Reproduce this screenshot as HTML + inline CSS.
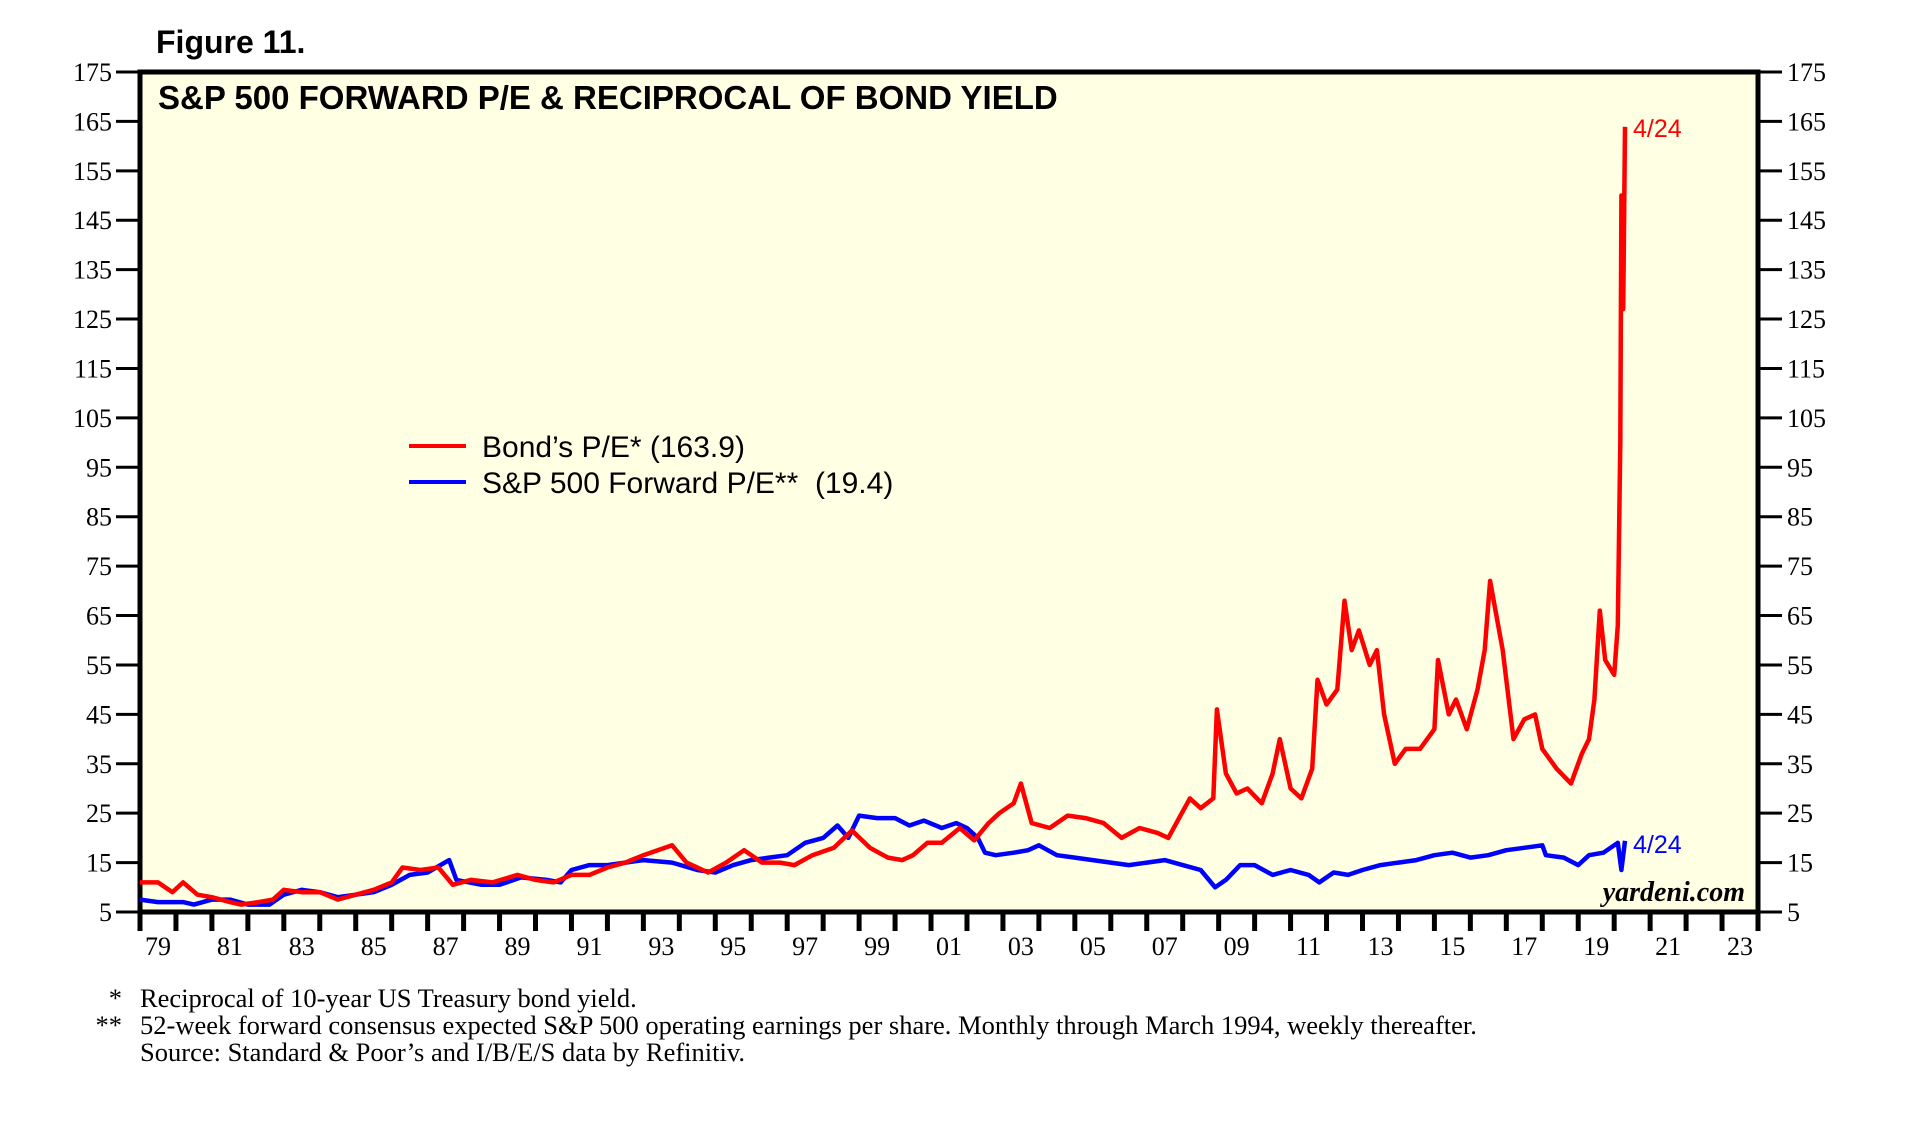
<!DOCTYPE html>
<html><head><meta charset="utf-8"><style>
body{margin:0;background:#fff;width:1919px;height:1121px;overflow:hidden;}
svg{display:block}
</style></head><body>
<svg id="c" width="1919" height="1121" xmlns="http://www.w3.org/2000/svg">
<text x="156" y="53" font-family="Liberation Sans, sans-serif" font-weight="bold" font-size="32">Figure 11.</text>
<rect x="140" y="72" width="1618" height="840" fill="#ffffe4" stroke="#000" stroke-width="5"/>
<text x="158" y="109" font-family="Liberation Sans, sans-serif" font-weight="bold" font-size="33">S&amp;P 500 FORWARD P/E &amp; RECIPROCAL OF BOND YIELD</text>
<g id="axes"></g>
<g id="series"></g>
<g font-family="Liberation Sans, sans-serif" font-size="30">
<line x1="409" y1="446" x2="466" y2="446" stroke="#f00" stroke-width="4"/>
<text x="482" y="457">Bond’s P/E* (163.9)</text>
<line x1="409" y1="482" x2="466" y2="482" stroke="#00f" stroke-width="4"/>
<text x="482" y="493">S&amp;P 500 Forward P/E**&#160;&#160;(19.4)</text>
</g>
<text x="1633" y="137" fill="#f00" font-family="Liberation Sans, sans-serif" font-size="25">4/24</text>
<text x="1633" y="853" fill="#00f" font-family="Liberation Sans, sans-serif" font-size="25">4/24</text>
<text x="1745" y="901" text-anchor="end" font-family="Liberation Serif, serif" font-style="italic" font-weight="bold" font-size="28">yardeni.com</text>
<g font-family="Liberation Serif, serif" font-size="26.5">
<text x="122" y="1007" text-anchor="end">*</text>
<text x="140" y="1007">Reciprocal of 10-year US Treasury bond yield.</text>
<text x="122" y="1034" text-anchor="end">**</text>
<text x="140" y="1034">52-week forward consensus expected S&amp;P 500 operating earnings per share. Monthly through March 1994, weekly thereafter.</text>
<text x="140" y="1061">Source: Standard &amp; Poor’s and I/B/E/S data by Refinitiv.</text>
</g>
</svg>
<script>
const yTicks=[5,15,25,35,45,55,65,75,85,95,105,115,125,135,145,155,165,175];
const xYearLabels=["79","81","83","85","87","89","91","93","95","97","99","01","03","05","07","09","11","13","15","17","19","21","23"];
const bondYears=[1979.0,1979.5,1979.9,1980.2,1980.6,1981.0,1981.5,1981.8,1982.3,1982.7,1983.0,1983.5,1984.0,1984.5,1985.0,1985.5,1986.0,1986.3,1986.8,1987.3,1987.7,1988.2,1988.8,1989.5,1990.0,1990.5,1991.0,1991.5,1992.0,1992.5,1993.0,1993.8,1994.2,1994.8,1995.3,1995.8,1996.3,1996.8,1997.2,1997.7,1998.3,1998.8,1999.3,1999.8,2000.2,2000.5,2000.9,2001.3,2001.8,2002.2,2002.6,2002.9,2003.3,2003.5,2003.8,2004.3,2004.8,2005.3,2005.8,2006.3,2006.8,2007.3,2007.6,2007.9,2008.2,2008.5,2008.85,2008.95,2009.2,2009.5,2009.8,2010.2,2010.5,2010.7,2011.0,2011.3,2011.6,2011.75,2012.0,2012.3,2012.5,2012.7,2012.9,2013.2,2013.4,2013.6,2013.9,2014.2,2014.6,2015.0,2015.1,2015.4,2015.6,2015.9,2016.2,2016.4,2016.55,2016.8,2016.9,2017.2,2017.5,2017.8,2018.0,2018.4,2018.8,2019.1,2019.3,2019.45,2019.6,2019.75,2020.0,2020.1,2020.17,2020.2,2020.25,2020.3];
const bondValues=[11,11,9,11,8.5,8,7,6.5,7,7.5,9.5,9,9,7.5,8.5,9.5,11,14,13.5,14,10.5,11.5,11,12.5,11.5,11,12.5,12.5,14,15,16.5,18.5,15,13,15,17.5,15,15,14.5,16.5,18,21.5,18,16,15.5,16.5,19,19,22,19.5,23,25,27,31,23,22,24.5,24,23,20,22,21,20,24,28,26,28,46,33,29,30,27,33,40,30,28,34,52,47,50,68,58,62,55,58,45,35,38,38,42,56,45,48,42,50,58,72,62,58,40,44,45,38,34,31,37,40,48,66,56,53,63,100,150,127,163.9];
const spYears=[1979,1979.5,1980.2,1980.5,1981,1981.5,1982,1982.6,1983,1983.5,1984,1984.5,1985,1985.5,1986,1986.5,1987.0,1987.6,1987.8,1988.5,1989,1989.6,1990.3,1990.7,1991.0,1991.5,1992.0,1992.5,1993.0,1993.8,1994.5,1995,1995.5,1996,1996.5,1997,1997.5,1998,1998.4,1998.7,1999.0,1999.5,2000.0,2000.4,2000.8,2001.3,2001.7,2002.0,2002.3,2002.5,2002.8,2003.3,2003.7,2004.0,2004.5,2005,2005.5,2006,2006.5,2007,2007.5,2008,2008.5,2008.9,2009.2,2009.6,2010.0,2010.5,2011,2011.5,2011.8,2012.2,2012.6,2013,2013.5,2014,2014.5,2015,2015.5,2016,2016.5,2017,2017.5,2018.0,2018.1,2018.6,2019.0,2019.3,2019.7,2020.1,2020.2,2020.3];
const spValues=[7.5,7,7,6.5,7.5,7.5,6.5,6.5,8.5,9.5,9,8,8.5,9,10.5,12.5,13,15.5,11.5,10.5,10.5,12,11.5,11,13.5,14.5,14.5,15,15.5,15,13.5,13,14.5,15.5,16,16.5,19,20,22.5,20,24.5,24,24,22.5,23.5,22,23,22,20,17,16.5,17,17.5,18.5,16.5,16,15.5,15,14.5,15,15.5,14.5,13.5,10,11.5,14.5,14.5,12.5,13.5,12.5,11,13,12.5,13.5,14.5,15,15.5,16.5,17,16,16.5,17.5,18,18.5,16.5,16,14.5,16.5,17,19,13.5,19.4];

const NS="http://www.w3.org/2000/svg";
const L=140,R=1758,T=72,B=912,Y0=1979,Y1=2024;
function xs(y){return L+(y-Y0)/(Y1-Y0)*(R-L);}
function ys(v){return B-(v-5)/(175-5)*(B-T);}
function mk(tag,attrs,parent){const e=document.createElementNS(NS,tag);for(const k in attrs)e.setAttribute(k,attrs[k]);parent.appendChild(e);return e;}
const ax=document.getElementById('axes');
yTicks.forEach(v=>{
  const y=ys(v);
  const t1=mk('line',{x1:116,x2:L,y1:y,y2:y,stroke:'#000','stroke-width':3},ax);
  
  
  const t2=mk('line',{x1:R,x2:1782,y1:y,y2:y,stroke:'#000','stroke-width':3},ax);
  
  
  const a=mk('text',{x:112,y:y+9,'text-anchor':'end','font-family':'Liberation Serif, serif','font-size':26},ax);
  a.textContent=v;
  
  
  const b=mk('text',{x:1787,y:y+9,'font-family':'Liberation Serif, serif','font-size':26},ax);
  b.textContent=v;
  
  
});
for(let yr=Y0;yr<=Y1;yr++){
  const x=xs(yr);
  const t=mk('line',{x1:x,x2:x,y1:B,y2:931,stroke:'#000','stroke-width':5},ax);
  
  
}
xYearLabels.forEach((lab,i)=>{
  const yr=Y0+2*i;
  const t=mk('text',{x:xs(yr+0.5),y:955,'text-anchor':'middle','font-family':'Liberation Serif, serif','font-size':26},ax);
  t.textContent=lab;
  
  
});
const sg=document.getElementById('series');
function line(xa,va,color,name){
  const d=xa.map((y,i)=>(i?'L':'M')+xs(y).toFixed(1)+','+ys(va[i]).toFixed(1)).join('');
  const p=mk('path',{d:d,fill:'none',stroke:color,'stroke-width':4.5,'stroke-linejoin':'round'},sg);
  
  
}
line(spYears,spValues,'#0000ff','sp500-forward-pe-line');
line(bondYears,bondValues,'#ff0000','bond-pe-line');
</script>
</body></html>
